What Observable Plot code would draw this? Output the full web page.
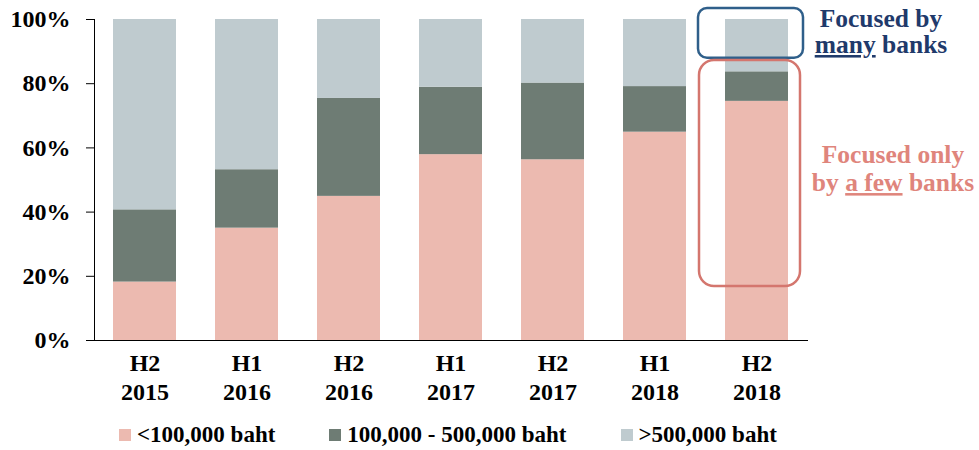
<!DOCTYPE html>
<html>
<head>
<meta charset="utf-8">
<script src="https://cdn.jsdelivr.net/npm/d3@7"></script>
<script src="https://cdn.jsdelivr.net/npm/@observablehq/plot@0.6"></script>
<style>
  html, body { margin: 0; padding: 0; background: #fff; }
  #chart { position: relative; width: 979px; }
  .legend { display: flex; align-items: center; height: 38px; padding-left: 119px; padding-top: 4px; gap: 54px;
    font-family: 'Liberation Serif', 'Times New Roman', serif; font-weight: bold; font-size: 23px; color: #000; }
  .legend .item { display: flex; align-items: center; gap: 6px; }
  .legend .sw { width: 12px; height: 12px; display: inline-block; }
</style>
</head>
<body>
<div id="chart"></div>
<script>
const periods = ["H2", "H1", "H2", "H1", "H2", "H1", "H2"];
const years = ["2015", "2016", "2016", "2017", "2017", "2018", "2018"];
const series = ["<100,000 baht", "100,000 - 500,000 baht", ">500,000 baht"];
const below100k = [18.2, 35.0, 44.9, 57.9, 56.3, 64.9, 74.5];
const from100kTo500k = [22.5, 18.2, 30.5, 21.0, 23.9, 14.2, 9.2];
const above500k = [59.3, 46.8, 24.6, 21.1, 19.8, 20.9, 16.3];
const colors = ["#ecbab0", "#6e7c74", "#bfcbcf"];
const yTicks = [0, 20, 40, 60, 80, 100];

const categories = periods.map((p, i) => p + "\n" + years[i]);
const seriesValues = [below100k, from100kTo500k, above500k];
const data = [];
categories.forEach((c, i) => {
  series.forEach((s, j) => data.push({cat: c, series: s, value: seriesValues[j][i]}));
});
const lastCat = categories[categories.length - 1];

const font = "'Liberation Serif', 'Times New Roman', serif";

const plot = Plot.plot({
  width: 979,
  height: 412,
  marginLeft: 94,
  marginRight: 171,
  marginTop: 19,
  marginBottom: 72,
  style: {fontFamily: font, fontSize: "24px", fontWeight: "bold", color: "#000", background: "#fff", overflow: "visible"},
  x: {domain: categories, paddingInner: 0.38, paddingOuter: 0.19, axis: null},
  y: {domain: [0, 100], ticks: yTicks, tickFormat: d => d + "%", tickSize: 8, tickPadding: 16, line: true, label: null},
  color: {domain: series, range: colors},
  marks: [
    Plot.barY(data, {x: "cat", y: "value", fill: "series"}),
    Plot.ruleY([0], {stroke: "#000"}),
    Plot.axisX({tickSize: 0, tickPadding: 10, lineHeight: 1.2, fontSize: 24, label: null}),
    Plot.barY([{cat: lastCat, y1: 103.4, y2: 87.9}], {x: "cat", y1: "y1", y2: "y2", fill: "none", stroke: "#2f5f8a", strokeWidth: 2.5, rx: 9, insetLeft: -27, insetRight: -15}),
    Plot.barY([{cat: lastCat, y1: 87.2, y2: 16.8}], {x: "cat", y1: "y1", y2: "y2", fill: "none", stroke: "#d4766e", strokeWidth: 2.5, rx: 15, insetLeft: -26, insetRight: -12})
  ]
});

document.getElementById("chart").appendChild(plot);

// Annotations
const xs = plot.scale("x"), ys = plot.scale("y");
const barRight = xs.apply(lastCat) + xs.bandwidth;
const svg = d3.select(plot);
function addText(lines, color, size, offset) {
  lines.forEach(l => {
    const t = svg.append("text")
      .attr("x", barRight + offset).attr("y", ys.apply(l.y))
      .attr("text-anchor", "middle")
      .attr("fill", color)
      .style("font-family", font).style("font-weight", "bold").style("font-size", size + "px");
    l.parts.forEach(p => {
      const ts = t.append("tspan").text(p.t);
      if (p.u) ts.style("text-decoration", "underline");
    });
  });
}
addText([
  {y: 97.5, parts: [{t: "Focused by"}]},
  {y: 89.4, parts: [{t: "many", u: true}, {t: " banks"}]}
], "#1f3a6b", 25.5, 93);
addText([
  {y: 55.1, parts: [{t: "Focused only"}]},
  {y: 46.4, parts: [{t: "by "}, {t: "a few", u: true}, {t: " banks"}]}
], "#df857c", 25.5, 105);

// Legend
const legend = d3.select("#chart").append("div").attr("class", "legend");
series.forEach((s, i) => {
  const it = legend.append("div").attr("class", "item");
  it.append("span").attr("class", "sw").style("background", colors[i]);
  it.append("span").text(s);
});
</script>
</body>
</html>
